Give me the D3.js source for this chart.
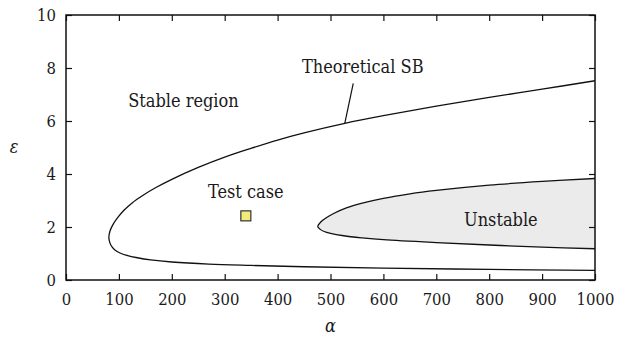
<!DOCTYPE html>
<html>
<head>
<meta charset="utf-8">
<script src="https://cdn.jsdelivr.net/npm/d3@7"></script>
<style>
  html, body { margin: 0; padding: 0; background: #fff; }
  svg { display: block; }
  text { font-family: "DejaVu Serif Condensed", "DejaVu Serif", serif; font-stretch: condensed; fill: #1a1a1a; }
</style>
</head>
<body>
<svg id="chart" width="625" height="341"></svg>
<script>
// Axis ticks
const alphaTicks = [0, 100, 200, 300, 400, 500, 600, 700, 800, 900, 1000];
const epsTicks = [0, 2, 4, 6, 8, 10];

// Theoretical stability boundary (SB), traced from the upper right around the nose to the lower right
const sbAlpha = [1000, 900, 800, 700, 600, 527, 450, 400, 350, 300, 250, 200, 170, 145, 125, 110, 98, 89, 83, 81,
                 83, 87, 93, 102, 115, 135, 160, 200, 270, 350, 450, 600, 800, 1000];
const sbEps   = [7.52, 7.2, 6.89, 6.56, 6.2, 5.91, 5.55, 5.28, 4.97, 4.64, 4.25, 3.8, 3.49, 3.19, 2.91, 2.64, 2.36, 2.1, 1.84, 1.6,
                 1.4, 1.25, 1.12, 1.02, 0.93, 0.84, 0.76, 0.68, 0.6, 0.55, 0.5, 0.45, 0.4, 0.36];

// Unstable region boundary, same direction
const unAlpha = [1000, 900, 800, 700, 650, 600, 560, 530, 505, 492, 482, 476,
                 480, 488, 500, 525, 560, 600, 700, 800, 900, 1000];
const unEps   = [3.83, 3.72, 3.58, 3.38, 3.25, 3.08, 2.9, 2.72, 2.5, 2.35, 2.2, 2.02,
                 1.92, 1.83, 1.76, 1.67, 1.59, 1.52, 1.41, 1.32, 1.24, 1.18];

// Test case point
const testAlpha = [340];
const testEps = [2.42];

// Leader line for the SB label (from label to curve)
const leaderAlpha = [543, 527];
const leaderEps = [7.42, 5.91];

const svg = d3.select("#chart");
const L = 66, R = 595, T = 15, B = 280;

const x = d3.scaleLinear().domain([0, 1000]).range([L, R]);
const y = d3.scaleLinear().domain([0, 10]).range([B, T]);

const zip = (a, e) => a.map((v, i) => [v, e[i]]);

const line = d3.line()
  .x(d => x(d[0])).y(d => y(d[1]))
  .curve(d3.curveCatmullRom.alpha(0.5));

svg.append("clipPath").attr("id", "plot")
  .append("rect").attr("x", L).attr("y", T).attr("width", R - L).attr("height", B - T);

const g = svg.append("g").attr("clip-path", "url(#plot)");

// Unstable region: closed along the right edge
const unPts = zip(unAlpha, unEps);
g.append("path")
  .attr("d", line(unPts) + "Z")
  .attr("fill", "#ebebeb")
  .attr("stroke", "none");
g.append("path")
  .attr("d", line(unPts))
  .attr("fill", "none")
  .attr("stroke", "#111")
  .attr("stroke-width", 1.3);

// Theoretical SB curve
g.append("path")
  .attr("d", line(zip(sbAlpha, sbEps)))
  .attr("fill", "none")
  .attr("stroke", "#111")
  .attr("stroke-width", 1.3);

// Leader line
g.append("path")
  .attr("d", d3.line().x(d => x(d[0])).y(d => y(d[1]))(zip(leaderAlpha, leaderEps)))
  .attr("stroke", "#111").attr("stroke-width", 1.2).attr("fill", "none");

// Test case marker
const sq = 10;
g.selectAll("rect.test").data(zip(testAlpha, testEps)).enter().append("rect")
  .attr("class", "test")
  .attr("x", d => x(d[0]) - sq / 2)
  .attr("y", d => y(d[1]) - sq / 2)
  .attr("width", sq).attr("height", sq)
  .attr("fill", "#f2ea7c")
  .attr("stroke", "#222")
  .attr("stroke-width", 1.1);

// Axes with inward ticks on all four sides
const tk = 6;
const axBottom = d3.axisBottom(x).tickValues(alphaTicks).tickFormat(d3.format("d"))
  .tickSizeInner(-tk).tickSizeOuter(0).tickPadding(13);
const axTop = d3.axisTop(x).tickValues(alphaTicks).tickSizeInner(-tk).tickSizeOuter(0).tickFormat("");
const axLeft = d3.axisLeft(y).tickValues(epsTicks).tickFormat(d3.format("d"))
  .tickSizeInner(-tk).tickSizeOuter(0).tickPadding(10);
const axRight = d3.axisRight(y).tickValues(epsTicks).tickSizeInner(-tk).tickSizeOuter(0).tickFormat("");

function styleAxis(sel) {
  sel.attr("font-family", null).attr("font-size", null);
  sel.select(".domain").remove();
  sel.selectAll(".tick line").attr("stroke", "#111").attr("stroke-width", 1.2);
  sel.selectAll(".tick text").attr("font-size", 16.5).attr("fill", "#1a1a1a");
}

svg.append("g").attr("transform", `translate(0,${B})`).call(axBottom).call(styleAxis);
svg.append("g").attr("transform", `translate(0,${T})`).call(axTop).call(styleAxis);
svg.append("g").attr("transform", `translate(${L},0)`).call(axLeft).call(styleAxis);
svg.append("g").attr("transform", `translate(${R},0)`).call(axRight).call(styleAxis);

// Frame
svg.append("rect")
  .attr("x", L).attr("y", T).attr("width", R - L).attr("height", B - T)
  .attr("fill", "none").attr("stroke", "#111").attr("stroke-width", 1.5);

// Axis titles
svg.append("text").attr("x", (L + R) / 2).attr("y", 332)
  .attr("text-anchor", "middle").attr("font-size", 18).attr("font-style", "italic")
  .text("α");
svg.append("text").attr("x", 14).attr("y", 153)
  .attr("text-anchor", "middle").attr("font-size", 18).attr("font-style", "italic")
  .text("ε");

// Annotations
const notes = [
  { t: "Stable region", a: 222, e: 6.53 },
  { t: "Theoretical SB", a: 561, e: 7.8 },
  { t: "Test case", a: 340, e: 3.09 },
  { t: "Unstable", a: 822, e: 2.05 }
];
svg.selectAll("text.note").data(notes).enter().append("text")
  .attr("class", "note")
  .attr("x", d => x(d.a)).attr("y", d => y(d.e))
  .attr("text-anchor", "middle").attr("font-size", 18)
  .text(d => d.t);
</script>
</body>
</html>
